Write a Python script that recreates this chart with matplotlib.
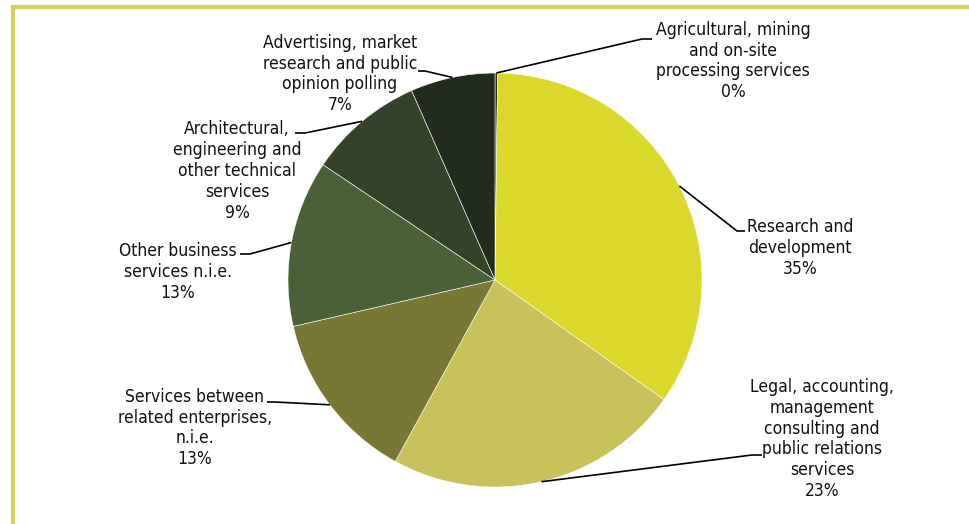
import matplotlib.pyplot as plt
import numpy as np

# Service exports by category (share, %)
categorias = [
    'Agricultural, mining\nand on-site\nprocessing services',
    'Research and\ndevelopment',
    'Legal, accounting,\nmanagement\nconsulting and\npublic relations\nservices',
    'Services between\nrelated enterprises,\nn.i.e.',
    'Other business\nservices n.i.e.',
    'Architectural,\nengineering and\nother technical\nservices',
    'Advertising, market\nresearch and public\nopinion polling',
]
valores = [0.2, 34.6, 23.2, 13.4, 13.0, 9.0, 6.6]
colores = ['#1f2a1a', '#d9d82b', '#c7c25a', '#787733', '#4a6039', '#344229', '#222c1d']

# text block centre (px) and the elbow where the leader line turns horizontal
pos_texto = [(733, 61), (800, 248), (822, 439), (195, 428), (178, 272), (237, 171), (340, 74)]
codo = [(642, 39), (737, 231), (752, 455), (275, 402), (250, 254), (305, 133), (425, 71)]
fin = [(652, 39), (745, 231), (762, 455), (267, 402), (240, 254), (295, 133), (418, 71)]

W, H = 969, 524
CX, CY, R = 495, 280, 207

fig = plt.figure(figsize=(W / 100, H / 100), dpi=100)
ax = fig.add_axes([0, 0, 1, 1])
ax.set_xlim(0, W)
ax.set_ylim(0, H)
ax.axis('off')

wedges, _ = ax.pie(valores, colors=colores, startangle=90, counterclock=False,
                   center=(CX, H - CY), radius=R,
                   wedgeprops=dict(edgecolor='white', linewidth=0.4))
ax.set_xlim(0, W)
ax.set_ylim(0, H)
ax.set_aspect('auto')

for w, cat, v, (tx, ty), (ex, ey), (fx, fy) in zip(wedges, categorias, valores,
                                                   pos_texto, codo, fin):
    ang = np.deg2rad((w.theta1 + w.theta2) / 2)
    px = CX + R * np.cos(ang)
    py = H - CY + R * np.sin(ang)
    ax.plot([px, ex, fx], [py, H - ey, H - fy], color='black', linewidth=1.2,
            solid_capstyle='butt')
    ax.text(tx, H - ty, f'{cat}\n{v:.0f}%', ha='center', va='center',
            fontsize=12.5, family='DejaVu Sans', fontstretch='condensed',
            linespacing=1.2, color='#111111')

# yellow frame on top and left
ax.plot([13.5, 13.5, W], [0, H - 7, H - 7], color='#d4cf60', linewidth=3,
        solid_capstyle='butt', solid_joinstyle='miter')

fig.savefig('out.png', dpi=100)
